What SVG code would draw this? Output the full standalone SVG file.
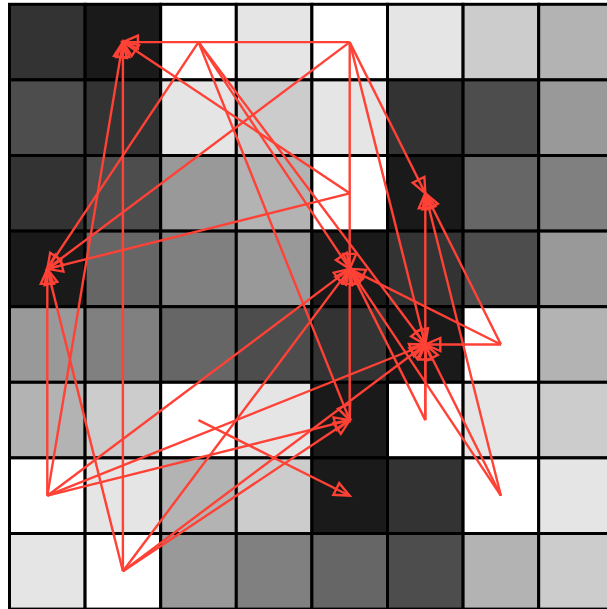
<svg xmlns="http://www.w3.org/2000/svg" width="607" height="609" viewBox="0 0 607 609">
<style>
.c{stroke:#000;stroke-width:3}
.e{stroke:#ff4136;stroke-width:2.4;fill:none;marker-end:url(#ah)}
</style>
<defs>
<marker id="ah" markerUnits="userSpaceOnUse" markerWidth="24" markerHeight="20" viewBox="-20 -10 24 20" refX="0" refY="0" orient="auto">
<path d="M0,0 L-15,-6.5 L-15,6.5 Z" fill="none" stroke="#ff4136" stroke-width="2.4"/>
</marker>
</defs>
<rect width="607" height="609" fill="#fff"/>
<g id="grid">
<rect class="c" x="9.5" y="4.3" width="75.6" height="75.6" fill="#333"/>
<rect class="c" x="85.1" y="4.3" width="75.6" height="75.6" fill="#1a1a1a"/>
<rect class="c" x="160.7" y="4.3" width="75.6" height="75.6" fill="#fff"/>
<rect class="c" x="236.3" y="4.3" width="75.6" height="75.6" fill="#e5e5e5"/>
<rect class="c" x="311.9" y="4.3" width="75.6" height="75.6" fill="#fff"/>
<rect class="c" x="387.5" y="4.3" width="75.6" height="75.6" fill="#e5e5e5"/>
<rect class="c" x="463.1" y="4.3" width="75.6" height="75.6" fill="#ccc"/>
<rect class="c" x="538.7" y="4.3" width="75.6" height="75.6" fill="#b3b3b3"/>

<rect class="c" x="9.5" y="79.9" width="75.6" height="75.6" fill="#4d4d4d"/>
<rect class="c" x="85.1" y="79.9" width="75.6" height="75.6" fill="#333"/>
<rect class="c" x="160.7" y="79.9" width="75.6" height="75.6" fill="#e5e5e5"/>
<rect class="c" x="236.3" y="79.9" width="75.6" height="75.6" fill="#ccc"/>
<rect class="c" x="311.9" y="79.9" width="75.6" height="75.6" fill="#e5e5e5"/>
<rect class="c" x="387.5" y="79.9" width="75.6" height="75.6" fill="#333"/>
<rect class="c" x="463.1" y="79.9" width="75.6" height="75.6" fill="#4d4d4d"/>
<rect class="c" x="538.7" y="79.9" width="75.6" height="75.6" fill="#999"/>

<rect class="c" x="9.5" y="155.5" width="75.6" height="75.6" fill="#333"/>
<rect class="c" x="85.1" y="155.5" width="75.6" height="75.6" fill="#4d4d4d"/>
<rect class="c" x="160.7" y="155.5" width="75.6" height="75.6" fill="#999"/>
<rect class="c" x="236.3" y="155.5" width="75.6" height="75.6" fill="#b3b3b3"/>
<rect class="c" x="311.9" y="155.5" width="75.6" height="75.6" fill="#fff"/>
<rect class="c" x="387.5" y="155.5" width="75.6" height="75.6" fill="#1a1a1a"/>
<rect class="c" x="463.1" y="155.5" width="75.6" height="75.6" fill="#666"/>
<rect class="c" x="538.7" y="155.5" width="75.6" height="75.6" fill="#808080"/>

<rect class="c" x="9.5" y="231.1" width="75.6" height="75.6" fill="#1a1a1a"/>
<rect class="c" x="85.1" y="231.1" width="75.6" height="75.6" fill="#666"/>
<rect class="c" x="160.7" y="231.1" width="75.6" height="75.6" fill="#808080"/>
<rect class="c" x="236.3" y="231.1" width="75.6" height="75.6" fill="#999"/>
<rect class="c" x="311.9" y="231.1" width="75.6" height="75.6" fill="#1a1a1a"/>
<rect class="c" x="387.5" y="231.1" width="75.6" height="75.6" fill="#333"/>
<rect class="c" x="463.1" y="231.1" width="75.6" height="75.6" fill="#4d4d4d"/>
<rect class="c" x="538.7" y="231.1" width="75.6" height="75.6" fill="#999"/>

<rect class="c" x="9.5" y="306.7" width="75.6" height="75.6" fill="#999"/>
<rect class="c" x="85.1" y="306.7" width="75.6" height="75.6" fill="#808080"/>
<rect class="c" x="160.7" y="306.7" width="75.6" height="75.6" fill="#666"/>
<rect class="c" x="236.3" y="306.7" width="75.6" height="75.6" fill="#4d4d4d"/>
<rect class="c" x="311.9" y="306.7" width="75.6" height="75.6" fill="#333"/>
<rect class="c" x="387.5" y="306.7" width="75.6" height="75.6" fill="#1a1a1a"/>
<rect class="c" x="463.1" y="306.7" width="75.6" height="75.6" fill="#fff"/>
<rect class="c" x="538.7" y="306.7" width="75.6" height="75.6" fill="#b3b3b3"/>

<rect class="c" x="9.5" y="382.3" width="75.6" height="75.6" fill="#b3b3b3"/>
<rect class="c" x="85.1" y="382.3" width="75.6" height="75.6" fill="#ccc"/>
<rect class="c" x="160.7" y="382.3" width="75.6" height="75.6" fill="#fff"/>
<rect class="c" x="236.3" y="382.3" width="75.6" height="75.6" fill="#e5e5e5"/>
<rect class="c" x="311.9" y="382.3" width="75.6" height="75.6" fill="#1a1a1a"/>
<rect class="c" x="387.5" y="382.3" width="75.6" height="75.6" fill="#fff"/>
<rect class="c" x="463.1" y="382.3" width="75.6" height="75.6" fill="#e5e5e5"/>
<rect class="c" x="538.7" y="382.3" width="75.6" height="75.6" fill="#ccc"/>

<rect class="c" x="9.5" y="457.9" width="75.6" height="75.6" fill="#fff"/>
<rect class="c" x="85.1" y="457.9" width="75.6" height="75.6" fill="#e5e5e5"/>
<rect class="c" x="160.7" y="457.9" width="75.6" height="75.6" fill="#b3b3b3"/>
<rect class="c" x="236.3" y="457.9" width="75.6" height="75.6" fill="#ccc"/>
<rect class="c" x="311.9" y="457.9" width="75.6" height="75.6" fill="#1a1a1a"/>
<rect class="c" x="387.5" y="457.9" width="75.6" height="75.6" fill="#333"/>
<rect class="c" x="463.1" y="457.9" width="75.6" height="75.6" fill="#fff"/>
<rect class="c" x="538.7" y="457.9" width="75.6" height="75.6" fill="#e5e5e5"/>

<rect class="c" x="9.5" y="533.5" width="75.6" height="75.6" fill="#e5e5e5"/>
<rect class="c" x="85.1" y="533.5" width="75.6" height="75.6" fill="#fff"/>
<rect class="c" x="160.7" y="533.5" width="75.6" height="75.6" fill="#999"/>
<rect class="c" x="236.3" y="533.5" width="75.6" height="75.6" fill="#808080"/>
<rect class="c" x="311.9" y="533.5" width="75.6" height="75.6" fill="#666"/>
<rect class="c" x="387.5" y="533.5" width="75.6" height="75.6" fill="#4d4d4d"/>
<rect class="c" x="463.1" y="533.5" width="75.6" height="75.6" fill="#b3b3b3"/>
<rect class="c" x="538.7" y="533.5" width="75.6" height="75.6" fill="#ccc"/>
</g>
<g id="connectors">
<line class="e" x1="349.7" y1="42.1" x2="122.9" y2="42.1"/>
<line class="e" x1="349.7" y1="42.1" x2="47.3" y2="268.9"/>
<line class="e" x1="349.7" y1="42.1" x2="349.7" y2="268.9"/>
<line class="e" x1="349.7" y1="42.1" x2="425.3" y2="193.3"/>
<line class="e" x1="349.7" y1="42.1" x2="425.3" y2="344.5"/>
<line class="e" x1="198.5" y1="42.1" x2="47.3" y2="268.9"/>
<line class="e" x1="198.5" y1="42.1" x2="349.7" y2="268.9"/>
<line class="e" x1="198.5" y1="42.1" x2="425.3" y2="344.5"/>
<line class="e" x1="198.5" y1="42.1" x2="349.7" y2="420.1"/>
<line class="e" x1="349.7" y1="193.3" x2="122.9" y2="42.1"/>
<line class="e" x1="349.7" y1="193.3" x2="47.3" y2="268.9"/>
<line class="e" x1="500.9" y1="344.5" x2="425.3" y2="344.5"/>
<line class="e" x1="500.9" y1="344.5" x2="349.7" y2="268.9"/>
<line class="e" x1="500.9" y1="344.5" x2="425.3" y2="193.3"/>
<line class="e" x1="425.3" y1="420.1" x2="425.3" y2="344.5"/>
<line class="e" x1="425.3" y1="420.1" x2="425.3" y2="193.3"/>
<line class="e" x1="425.3" y1="420.1" x2="349.7" y2="268.9"/>
<line class="e" x1="500.9" y1="495.7" x2="425.3" y2="344.5"/>
<line class="e" x1="500.9" y1="495.7" x2="349.7" y2="268.9"/>
<line class="e" x1="500.9" y1="495.7" x2="425.3" y2="193.3"/>
<line class="e" x1="349.7" y1="420.1" x2="349.7" y2="268.9"/>
<line class="e" x1="198.5" y1="420.1" x2="349.7" y2="495.7"/>
<line class="e" x1="47.3" y1="495.7" x2="122.9" y2="42.1"/>
<line class="e" x1="47.3" y1="495.7" x2="47.3" y2="268.9"/>
<line class="e" x1="47.3" y1="495.7" x2="349.7" y2="268.9"/>
<line class="e" x1="47.3" y1="495.7" x2="425.3" y2="344.5"/>
<line class="e" x1="47.3" y1="495.7" x2="349.7" y2="420.1"/>
<line class="e" x1="122.9" y1="571.3" x2="122.9" y2="42.1"/>
<line class="e" x1="122.9" y1="571.3" x2="47.3" y2="268.9"/>
<line class="e" x1="122.9" y1="571.3" x2="349.7" y2="268.9"/>
<line class="e" x1="122.9" y1="571.3" x2="425.3" y2="344.5"/>
<line class="e" x1="122.9" y1="571.3" x2="349.7" y2="420.1"/>
</g>
</svg>
